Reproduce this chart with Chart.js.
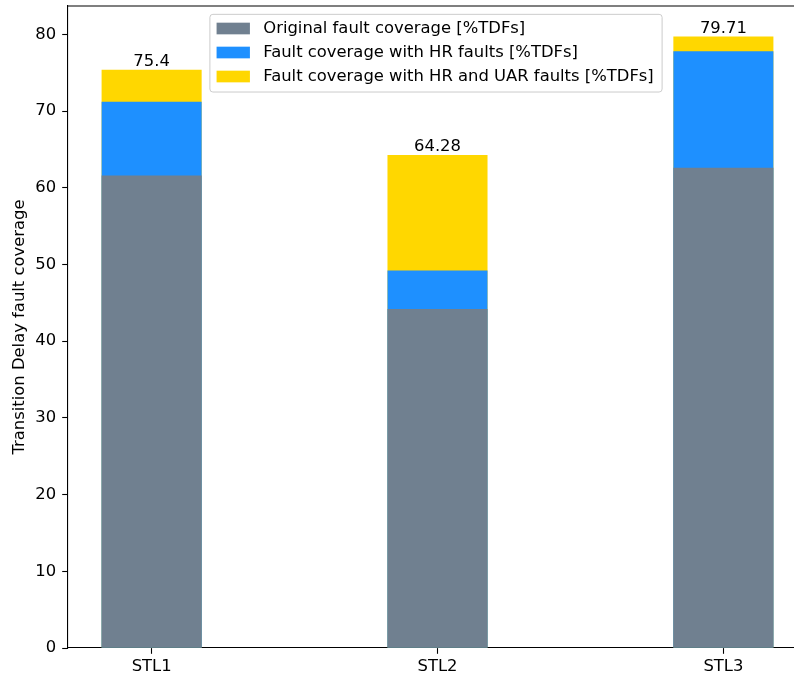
<!DOCTYPE html>
<html>
<head>
<meta charset="utf-8">
<script src="https://cdn.jsdelivr.net/npm/chart.js@4.4.1/dist/chart.umd.min.js"></script>
<style>
  html, body { margin: 0; padding: 0; background: #fff; overflow: hidden; }
  #contenedor { position: relative; width: 830px; height: 678px; }
</style>
</head>
<body>
<div id="contenedor"><canvas id="graficoCobertura"></canvas></div>
<script>
// Datos de cobertura de fallos TDF por cada STL
const categorias = ["STL1", "STL2", "STL3"];
const coberturaOriginal = [61.6, 44.2, 62.6];
const coberturaHR = [71.2, 49.2, 77.8];
const coberturaHRyUAR = [75.4, 64.28, 79.71];
const ticksY = [0, 10, 20, 30, 40, 50, 60, 70, 80];

const etiquetas = [
    "Original fault coverage [%TDFs]",
    "Fault coverage with HR faults [%TDFs]",
    "Fault coverage with HR and UAR faults [%TDFs]"
];
const colores = ["#708090", "#1e90ff", "#ffd700"];

const FS = 16.4;  // tamaño de fuente
const EM = 16.67; // unidad para espaciados (10pt)
Chart.defaults.font.family = "'DejaVu Sans', sans-serif";
Chart.defaults.font.size = FS;
Chart.defaults.color = "#000";

const maxY = Math.max(...coberturaHRyUAR) * 1.05;

function aPuntos(valores) {
    return valores.map((v, i) => ({ x: i, y: v }));
}

// Marco superior/derecho, leyenda dentro del área y etiquetas de valor
const pluginExtras = {
    id: "extras",
    afterDatasetsDraw(chart) {
        const ctx = chart.ctx;
        const area = chart.chartArea;
        const xs = chart.scales.x;
        const ys = chart.scales.y;

        ctx.save();
        ctx.strokeStyle = "#000";
        ctx.lineWidth = 1.1;
        ctx.beginPath();
        ctx.moveTo(area.left, area.top);
        ctx.lineTo(area.right, area.top);
        ctx.lineTo(area.right, area.bottom);
        ctx.stroke();

        // etiquetas sobre las barras
        ctx.font = FS + "px 'DejaVu Sans'";
        ctx.fillStyle = "#000";
        ctx.textAlign = "center";
        ctx.textBaseline = "bottom";
        coberturaHRyUAR.forEach((v, i) => {
            ctx.fillText(String(v), xs.getPixelForValue(i), ys.getPixelForValue(v));
        });

        // leyenda
        const pad = 0.4 * EM;
        const largoMarca = 2 * EM;
        const sepTexto = 0.8 * EM;
        const altoFila = 1.44 * EM;
        ctx.textAlign = "left";
        ctx.textBaseline = "middle";
        const anchoTexto = Math.max(...etiquetas.map(t => ctx.measureText(t).width));
        const ancho = pad + largoMarca + sepTexto + anchoTexto + 0.5 * EM;
        const alto = 4.66 * EM;
        const x0 = xs.getPixelForValue(1) - 1.5 - ancho / 2;
        const y0 = area.top + 0.5 * EM;

        ctx.beginPath();
        ctx.roundRect(x0, y0, ancho, alto, 3);
        ctx.fillStyle = "rgba(255,255,255,0.8)";
        ctx.fill();
        ctx.strokeStyle = "#cccccc";
        ctx.lineWidth = 1;
        ctx.stroke();

        etiquetas.forEach((t, i) => {
            const yc = y0 + 0.85 * EM + i * altoFila;
            ctx.fillStyle = colores[i];
            ctx.fillRect(x0 + pad, yc - 0.35 * EM, largoMarca, 0.7 * EM);
            ctx.fillStyle = "#000";
            ctx.fillText(t, x0 + pad + largoMarca + sepTexto, yc);
        });
        ctx.restore();
    }
};

const ctx = document.getElementById("graficoCobertura").getContext("2d");
new Chart(ctx, {
    type: "bar",
    data: {
        datasets: [
            { label: etiquetas[0], data: aPuntos(coberturaOriginal), backgroundColor: colores[0] },
            { label: etiquetas[1], data: aPuntos(coberturaHR), backgroundColor: colores[1] },
            { label: etiquetas[2], data: aPuntos(coberturaHRyUAR), backgroundColor: colores[2] }
        ]
    },
    options: {
        responsive: true,
        maintainAspectRatio: false,
        animation: false,
        devicePixelRatio: 1,
        layout: { padding: { top: 6, right: 23, bottom: 0, left: 0 } },
        datasets: {
            bar: { grouped: false, categoryPercentage: 0.35, barPercentage: 1.0, borderWidth: 0 }
        },
        plugins: {
            legend: { display: false },
            tooltip: { enabled: false }
        },
        scales: {
            x: {
                type: "linear",
                min: -0.2925,
                max: 2.2925,
                offset: false,
                afterBuildTicks: axis => { axis.ticks = categorias.map((c, i) => ({ value: i })); },
                afterFit: axis => {
                    axis.height = 30;
                    axis.paddingLeft = 0;
                    axis.paddingRight = 0;
                },
                ticks: {
                    autoSkip: false,
                    maxRotation: 0,
                    padding: 3,
                    callback: v => categorias[v]
                },
                grid: { offset: false, drawOnChartArea: false, drawTicks: true, tickLength: 5.8, tickWidth: 1.1, tickColor: "#000" },
                border: { display: true, color: "#000", width: 1.1 }
            },
            y: {
                min: 0,
                max: maxY,
                afterBuildTicks: axis => { axis.ticks = ticksY.map(v => ({ value: v })); },
                afterFit: axis => {
                    axis.width = 68;
                    axis.paddingTop = 0;
                    axis.paddingBottom = 0;
                },
                ticks: { padding: 6 },
                grid: { drawOnChartArea: false, drawTicks: true, tickLength: 5.8, tickWidth: 1.1, tickColor: "#000" },
                border: { display: true, color: "#000", width: 1.1 },
                title: {
                    display: true,
                    text: "Transition Delay fault coverage",
                    font: { size: FS },
                    padding: { top: 10, bottom: 0 }
                }
            }
        }
    },
    plugins: [pluginExtras]
});
</script>
</body>
</html>
